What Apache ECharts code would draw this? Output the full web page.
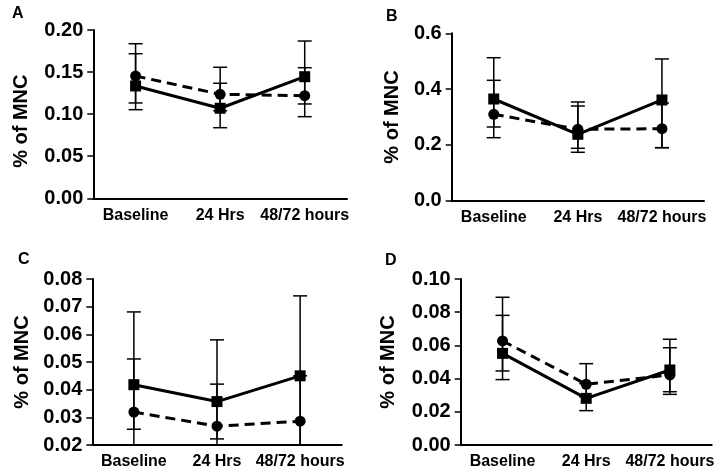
<!DOCTYPE html>
<html>
<head>
<meta charset="utf-8">
<script src="https://cdn.jsdelivr.net/npm/echarts@6/dist/echarts.min.js"></script>
<style>
html,body{margin:0;padding:0;background:#fff;}
#chart{width:721px;height:475px;}
</style>
</head>
<body>
<div id="chart"></div>
<script>
// ---------- data ----------
const categories = ['Baseline', '24 Hrs', '48/72 hours'];
const panelLetters = ['A', 'B', 'C', 'D'];
const yAxisTitle = '% of MNC';

// Panel A
const squareA   = [0.1335, 0.107, 0.1445];
const squareAHi = [0.1718, 0.1367, 0.1869];
const squareALo = [0.1053, 0.0839, 0.1121];
const circleA   = [0.1453, 0.1236, 0.1219];
const circleAHi = [0.1837, 0.1557, 0.1552];
const circleALo = [0.1133, 0.104, 0.0970];
const ticksA = [0.00, 0.05, 0.10, 0.15, 0.20];

// Panel B
const squareB   = [0.3645, 0.238, 0.361];
const squareBHi = [0.5125, 0.3394, 0.508];
const squareBLo = [0.2258, 0.1735, 0.190];
const circleB   = [0.3097, 0.256, 0.258];
const circleBHi = [0.4315, 0.3538, 0.35];
const circleBLo = [0.2642, 0.1878, 0.190];
const ticksB = [0.0, 0.2, 0.4, 0.6];

// Panel C
const squareC   = [0.0418, 0.0357, 0.0450];
const squareCHi = [0.0681, 0.058, 0.0739];
const squareCLo = [0.020, 0.020, 0.020];
const circleC   = [0.0319, 0.0268, 0.0286];
const circleCHi = [0.0511, 0.0420, 0.045];
const circleCLo = [0.0257, 0.0222, 0.020];
const ticksC = [0.02, 0.03, 0.04, 0.05, 0.06, 0.07, 0.08];

// Panel D
const squareD   = [0.0552, 0.0281, 0.0452];
const squareDHi = [0.0781, 0.037, 0.0637];
const squareDLo = [0.0446, 0.0207, 0.0305];
const circleD   = [0.0627, 0.0366, 0.0422];
const circleDHi = [0.0890, 0.049, 0.0586];
const circleDLo = [0.0394, 0.029, 0.0321];
const ticksD = [0.00, 0.02, 0.04, 0.06, 0.08, 0.10];

// ---------- layout / style ----------
const FONT = '"Liberation Sans", Arial, Helvetica, sans-serif';
const panels = [
  {grid:{left:93.3, top:30, width:253.7, height:168.3}, ticks:ticksA, dec:2, gap:62, pad:[0,14,0,0],
   sq:squareA, sqHi:squareAHi, sqLo:squareALo, ci:circleA, ciHi:circleAHi, ciLo:circleALo, letter:[12,6]},
  {grid:{left:451.7, top:33.3, width:252.3, height:167.4}, ticks:ticksB, dec:1, gap:49, pad:[0,0,0,0],
   sq:squareB, sqHi:squareBHi, sqLo:squareBLo, ci:circleB, ciHi:circleBHi, ciLo:circleBLo, letter:[386,9]},
  {grid:{left:92.3, top:279, width:249.4, height:166}, ticks:ticksC, dec:2, gap:60, pad:[0,0,0,0],
   sq:squareC, sqHi:squareCHi, sqLo:squareCLo, ci:circleC, ciHi:circleCHi, ciLo:circleCLo, letter:[18,252]},
  {grid:{left:460.7, top:279, width:251, height:166}, ticks:ticksD, dec:2, gap:62, pad:[0,0,0,0],
   sq:squareD, sqHi:squareDHi, sqLo:squareDLo, ci:circleD, ciHi:circleDHi, ciLo:circleDLo, letter:[385,253]}
];

function errRender(params, api) {
  const x = api.value(0), hi = api.value(1), lo = api.value(2);
  const pHi = api.coord([x, hi]);
  const pLo = api.coord([x, lo]);
  const w = 7;
  const st = {stroke:'#000', lineWidth:1.5};
  return {
    type:'group',
    children:[
      {type:'line', shape:{x1:pHi[0], y1:pHi[1], x2:pLo[0], y2:pLo[1]}, style:st},
      {type:'line', shape:{x1:pHi[0]-w, y1:pHi[1], x2:pHi[0]+w, y2:pHi[1]}, style:st},
      {type:'line', shape:{x1:pLo[0]-w, y1:pLo[1], x2:pLo[0]+w, y2:pLo[1]}, style:st}
    ]
  };
}

const grids = [], xAxes = [], yAxes = [], series = [], graphics = [];
panels.forEach((p, i) => {
  grids.push(Object.assign({containLabel:false}, p.grid));
  xAxes.push({
    type:'category', gridIndex:i, data:categories, boundaryGap:true,
    axisLine:{lineStyle:{color:'#000', width:2}},
    axisTick:{alignWithLabel:true, length:5, lineStyle:{color:'#000', width:1.5}},
    axisLabel:{color:'#000', fontFamily:FONT, fontWeight:'bold', fontSize:16, margin:9, interval:0},
    splitLine:{show:false}
  });
  const tk = p.ticks;
  yAxes.push({
    type:'value', gridIndex:i, min:tk[0], max:tk[tk.length-1],
    interval: +(tk[1]-tk[0]).toFixed(4),
    name: yAxisTitle, nameLocation:'middle', nameGap:p.gap, nameRotate:90,
    nameTextStyle:{color:'#000', fontFamily:FONT, fontWeight:'bold', fontSize:20, padding:p.pad},
    axisLine:{show:true, lineStyle:{color:'#000', width:2}},
    axisTick:{show:true, length:6, lineStyle:{color:'#000', width:1.5}},
    axisLabel:{color:'#000', fontFamily:FONT, fontWeight:'bold', fontSize:20, margin:10,
      formatter:(v)=>Number(v).toFixed(p.dec)},
    splitLine:{show:false}
  });
  const errSq = categories.map((c, k) => [k, p.sqHi[k], p.sqLo[k]]);
  const errCi = categories.map((c, k) => [k, p.ciHi[k], p.ciLo[k]]);
  series.push({type:'custom', xAxisIndex:i, yAxisIndex:i, renderItem:errRender, data:errSq,
    encode:{x:0, y:[1,2]}, z:1, silent:true});
  series.push({type:'custom', xAxisIndex:i, yAxisIndex:i, renderItem:errRender, data:errCi,
    encode:{x:0, y:[1,2]}, z:1, silent:true});
  series.push({type:'line', xAxisIndex:i, yAxisIndex:i, data:p.ci, symbol:'circle', symbolSize:11,
    lineStyle:{color:'#000', width:3, type:[10,6]}, itemStyle:{color:'#000'}, z:3});
  series.push({type:'line', xAxisIndex:i, yAxisIndex:i, data:p.sq, symbol:'rect', symbolSize:11,
    lineStyle:{color:'#000', width:3}, itemStyle:{color:'#000'}, z:4});
  graphics.push({type:'text', left:p.letter[0], top:p.letter[1],
    style:{text:panelLetters[i], fill:'#000', font:'bold 16px ' + FONT}});
});

const chart = echarts.init(document.getElementById('chart'), null, {renderer:'canvas'});
chart.setOption({
  backgroundColor:'#fff',
  animation:false,
  grid:grids, xAxis:xAxes, yAxis:yAxes, series:series, graphic:graphics
});
</script>
</body>
</html>
